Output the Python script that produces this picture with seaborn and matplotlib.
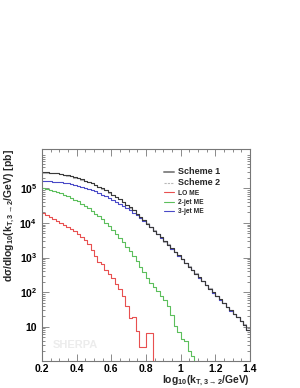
import numpy as np
import pandas as pd
import matplotlib
matplotlib.use("Agg")
import matplotlib.pyplot as plt
import matplotlib.ticker as ticker
from matplotlib.lines import Line2D
import seaborn as sns

# bins in log10(kT/GeV), 0.02 wide, from 0.2 to 1.4
centers = np.round(np.arange(0.21, 1.40, 0.02), 2)

# log10 of dsigma/dlog10(kT) [pb], one value per bin
scheme1 = [5.46, 5.46, 5.45, 5.44, 5.43, 5.41, 5.39, 5.37, 5.35, 5.32,
           5.29, 5.26, 5.22, 5.18, 5.14, 5.10, 5.05, 5.00, 4.94, 4.88,
           4.82, 4.75, 4.68, 4.61, 4.53, 4.45, 4.36, 4.27, 4.18, 4.08,
           3.98, 3.88, 3.78, 3.68, 3.58, 3.47, 3.37, 3.27, 3.16, 3.06,
           2.95, 2.85, 2.74, 2.64, 2.53, 2.43, 2.32, 2.21, 2.10, 2.00,
           1.89, 1.79, 1.68, 1.58, 1.48, 1.38, 1.27, 1.17, 1.06, 0.92]
scheme2 = [5.45, 5.45, 5.45, 5.43, 5.43, 5.40, 5.39, 5.36, 5.35, 5.31,
           5.29, 5.25, 5.22, 5.17, 5.14, 5.09, 5.05, 4.99, 4.94, 4.87,
           4.82, 4.74, 4.68, 4.60, 4.53, 4.44, 4.36, 4.26, 4.18, 4.07,
           3.99, 3.87, 3.79, 3.67, 3.59, 3.46, 3.38, 3.26, 3.17, 3.05,
           2.96, 2.84, 2.75, 2.63, 2.54, 2.42, 2.33, 2.20, 2.11, 1.99,
           1.90, 1.78, 1.69, 1.57, 1.49, 1.37, 1.28, 1.16, 1.07, 0.90]
lo_me = [4.30, 4.22, 4.16, 4.11, 4.06, 4.00, 3.94, 3.88, 3.83, 3.77,
         3.68, 3.60, 3.50, 3.40, 3.22, 3.05, 2.88, 2.80, 2.65, 2.52,
         2.40, 2.25, 2.08, 1.88, 1.60, 1.25, 1.28, 0.88, 0.42, 0.42,
         0.82, 0.82, -3, -3, -3, -3, -3, -3, -3, -3,
         -3, -3, -3, -3, -3, -3, -3, -3, -3, -3,
         -3, -3, -3, -3, -3, -3, -3, -3, -3, -3]
jet2_me = [5.02, 4.99, 4.96, 4.93, 4.90, 4.86, 4.82, 4.77, 4.72, 4.67,
           4.62, 4.56, 4.49, 4.42, 4.35, 4.27, 4.19, 4.10, 4.00, 3.90,
           3.79, 3.68, 3.56, 3.44, 3.31, 3.18, 3.04, 2.90, 2.74, 2.58,
           2.42, 2.26, 2.15, 2.03, 1.90, 1.78, 1.60, 1.35, 1.02, 0.85,
           0.66, 0.60, 0.30, 0.15, -3, -3, -3, -3, -3, -3,
           -3, -3, -3, -3, -3, -3, -3, -3, -3, -3]
jet3_me = [5.20, 5.20, 5.20, 5.19, 5.18, 5.17, 5.16, 5.14, 5.12, 5.10,
           5.08, 5.05, 5.02, 4.99, 4.95, 4.91, 4.87, 4.82, 4.77, 4.72,
           4.67, 4.61, 4.55, 4.49, 4.43, 4.37, 4.30, 4.22, 4.14, 4.05,
           3.96, 3.87, 3.77, 3.67, 3.57, 3.47, 3.36, 3.26, 3.16, 3.05,
           2.95, 2.84, 2.74, 2.63, 2.53, 2.42, 2.32, 2.21, 2.10, 1.99,
           1.89, 1.78, 1.68, 1.58, 1.47, 1.37, 1.27, 1.16, 1.06, 0.91]

labels = ["Scheme 1", "Scheme 2", "LO ME", "2-jet ME", "3-jet ME"]
colors = ["#3a3a3a", "#b8b8b8", "#e85050", "#5cbf5c", "#4a4ac8"]
all_vals = [scheme1, scheme2, lo_me, jet2_me, jet3_me]

sns.set_theme(style="ticks")
plt.rcParams['font.family'] = ['Liberation Sans', 'DejaVu Sans']
plt.rcParams['font.weight'] = 'bold'
plt.rcParams['mathtext.fontset'] = 'custom'
plt.rcParams['mathtext.rm'] = 'Liberation Sans:bold'
plt.rcParams['mathtext.it'] = 'Liberation Sans:bold'
plt.rcParams['mathtext.bf'] = 'Liberation Sans:bold'

fig = plt.figure(figsize=(3.0, 3.88), dpi=100)
ax = fig.add_axes([0.14, 0.0696, 0.693, 0.546])

for i in [1, 4, 3, 2, 0]:
    df = pd.DataFrame({"x": centers, "w": 10.0 ** np.array(all_vals[i])})
    sns.histplot(data=df, x="x", weights="w", binwidth=0.02, binrange=(0.2, 1.4),
                 element="step", fill=False, color=colors[i], linewidth=0.8,
                 ax=ax)

ax.set_yscale("log")
ax.set_xlim(0.2, 1.4)
ax.set_ylim(1.03, 1.35e6)

ax.xaxis.set_major_locator(ticker.FixedLocator([0.2, 0.4, 0.6, 0.8, 1.0, 1.2, 1.4]))
ax.xaxis.set_major_formatter(ticker.FixedFormatter(["0.2", "0.4", "0.6", "0.8", "1", "1.2", "1.4"]))
ax.xaxis.set_minor_locator(ticker.MultipleLocator(0.05))
ax.yaxis.set_major_locator(ticker.FixedLocator([10, 1e2, 1e3, 1e4, 1e5]))
ax.yaxis.set_major_formatter(ticker.FixedFormatter(["10", "$10^2$", "$10^3$", "$10^4$", "$10^5$"]))
ax.yaxis.set_minor_locator(ticker.LogLocator(base=10, subs=np.arange(2, 10)))
ax.yaxis.set_minor_formatter(ticker.NullFormatter())

ax.tick_params(which="both", direction="in", top=True, right=True, labelsize=7.5,
               colors="#777777", labelcolor="black", width=0.6)
ax.tick_params(which="major", length=5)
ax.tick_params(which="minor", length=2.5)
ax.tick_params(axis="x", pad=2)
for s in ax.spines.values():
    s.set_color("#777777")
    s.set_linewidth(0.8)

ax.set_xlabel(r"log$_{10}$(k$_{T,3\to2}$/GeV)", fontsize=7.5, fontweight="bold",
              loc="right", labelpad=0)
ax.set_ylabel(r"d$\sigma$/dlog$_{10}$(k$_{T,3\to2}$/GeV) [pb]", fontsize=7.5,
              fontweight="bold", loc="top", labelpad=2)

ax.text(0.05, 0.06, "SHERPA", transform=ax.transAxes, fontsize=8,
        fontweight="bold", color="#ececec")

handles = [Line2D([], [], color="#888888", lw=1.4),
           Line2D([], [], color=colors[1], lw=0.8, ls=(0, (2, 1))),
           Line2D([], [], color=colors[2], lw=0.8),
           Line2D([], [], color=colors[3], lw=0.8),
           Line2D([], [], color=colors[4], lw=0.8)]
leg = ax.legend(handles, labels, loc="upper left", bbox_to_anchor=(0.575, 0.928),
                frameon=False, handlelength=1.4, handletextpad=0.6,
                labelspacing=0.33, fontsize=5, borderaxespad=0)
for t, fs in zip(leg.get_texts(), [6.5, 6.5, 4.8, 4.8, 4.8]):
    t.set_fontsize(fs)
    t.set_fontweight("bold")

fig.savefig("out.png", dpi=100)
